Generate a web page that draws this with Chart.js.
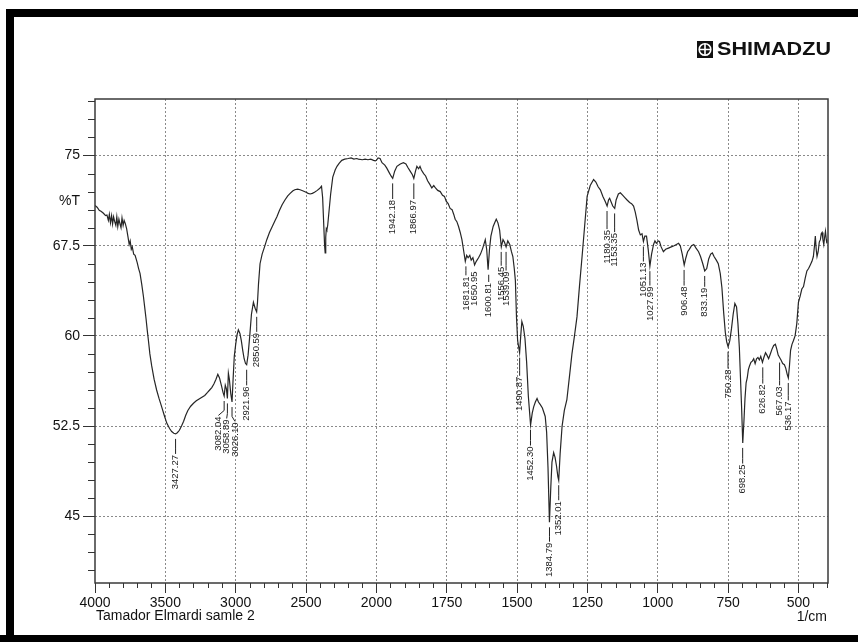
<!DOCTYPE html>
<html>
<head>
<meta charset="utf-8">
<script src="https://cdn.jsdelivr.net/npm/chart.js@4.4.1/dist/chart.umd.min.js"></script>
<style>
html,body{margin:0;padding:0;background:#fff;}
#wrap{width:858px;height:642px;}
</style>
</head>
<body>
<div id="wrap"><canvas id="c" width="858" height="642"></canvas></div>
<script>
// ---------- DATA ----------
const wavenumbers = [
4000,3985,3970,3955,3940,3925,3915,3905,3898,3890,3882,3875,3868,3860,3852,3845,3838,3830,3822,3815,3808,3800,3793,3785,3775,3765,3757,3750,3742,3735,3725,3715,3700,3690,3680,3668,3656,3645,3637,3628,3621,3610,3597,3580,3562,3545,3526,3508,3490,3470,3455,3440,3427,3415,3400,3385,3370,3355,3340,3320,3300,3280,3260,3240,3220,3200,3185,3170,3155,3140,3127,3115,3100,3090,3082,3074,3066,3059,3052,3045,3035,3026,3018,3010,3000,2990,2981,2970,2960,2950,2940,2930,2922,2912,2900,2888,2874,2862,2851,2845,2838,2827,2812,2795,2779,2760,2740,2720,2707,2690,2670,2650,2630,2613,2595,2580,2560,2542,2520,2500,2485,2471,2455,2440,2420,2400,2390,2382,2375,2368,2364,2360,2356,2352,2346,2338,2325,2310,2293,2280,2265,2246,2225,2200,2180,2160,2140,2128,2100,2080,2060,2040,2020,2008,2000,
1994,1987,1980,1970,1963,1955,1948,1942,1935,1927,1915,1904,1895,1888,1880,1872,1867,1861,1856,1850,1845,1840,1832,1825,1818,1810,1803,1796,1790,1782,1773,1765,1758,1752,1745,1738,1731,1725,1720,1714,1708,1702,1696,1690,1684,1679,1674,1668,1663,1657,1651,1645,1637,1630,1622,1613,1608,1603,1598,1593,1585,1578,1574,1568,1562,1556,1550,1545,1539,1533,1526,1520,1515,1510,1506,1502,1498,1491,1487,1483,1478,1472,1466,1460,1452,1446,1441,1435,1429,1424,1418,1410,1400,1395,1390,1385,1380,1376,1370,1365,1360,1355,1352,1347,1340,1332,1323,1313,1305,1296,1287,1278,1269,1260,1251,1240,1228,1220,1212,1204,1195,1187,1180,1175,1171,1165,1160,1153,1148,1140,1133,1125,1117,1109,1100,1093,1086,1080,1074,1068,1062,1056,1051,1046,1040,1034,1028,1022,1015,1010,1005,998,994,988,980,972,962,952,942,934,926,920,913,906,900,894,888,880,872,864,855,848,840,833,826,819,812,806,800,792,785,778,772,766,760,755,750,744,738,732,726,720,715,710,706,702,698,694,690,686,682,678,674,669,664,659,654,649,644,639,634,628,623,617,612,606,600,594,588,582,577,572,567,562,556,550,545,540,536,532,528,523,518,512,506,500,494,488,482,476,470,464,458,452,447,443,440,437,434,430,426,422,419,416,413,410,407,404,401,399
];
const transmittance = [
70.85,70.7,70.45,70.35,70.2,70.0,70.05,69.6,70.1,69.4,70.0,69.3,69.9,69.5,69.2,69.9,69.1,69.7,69.3,69.0,69.8,69.2,69.6,69.35,68.9,68.2,67.6,67.9,67.2,67.4,66.8,66.7,66.1,65.6,65.2,64.3,63.3,62.2,61.4,60.4,59.7,58.5,57.5,56.4,55.5,54.8,54.1,53.4,52.75,52.3,52.05,51.9,51.85,51.95,52.15,52.5,52.9,53.4,53.8,54.15,54.4,54.6,54.75,54.9,55.05,55.3,55.5,55.7,56.0,56.4,56.8,56.5,55.8,55.3,55.0,55.9,55.6,54.8,56.9,56.4,55.2,54.5,56.5,58.3,59.3,60.1,60.5,60.2,59.6,58.8,58.1,57.7,57.6,58.4,60.0,61.8,62.8,62.3,62.0,62.8,64.3,66.0,66.8,67.4,68.0,68.6,69.1,69.6,69.9,70.4,70.9,71.3,71.65,71.85,72.05,72.15,72.2,72.15,72.05,71.95,71.85,71.8,71.85,71.95,72.1,72.3,72.45,71.5,69.5,67.5,66.9,68.2,68.9,68.8,69.2,70.2,71.8,73.2,73.8,74.1,74.35,74.6,74.7,74.75,74.8,74.7,74.75,74.7,74.65,74.7,74.65,74.7,74.6,74.55,74.6,
74.8,74.75,74.4,74.2,73.95,73.6,73.3,73.1,73.7,74.1,74.3,74.4,74.3,74.0,73.7,73.4,73.1,73.7,74.1,73.9,74.1,73.8,73.5,73.3,72.9,72.6,72.3,72.5,72.3,72.1,72.0,71.7,71.6,71.2,71.0,70.6,70.5,70.1,69.7,69.5,69.1,68.6,68.0,67.1,66.2,66.7,66.5,66.7,66.3,66.5,65.9,66.2,66.5,66.8,67.3,68.0,67.2,65.5,67.2,68.3,69.1,69.5,69.7,69.4,68.8,67.4,68.0,67.8,67.4,67.9,67.6,67.0,66.6,65.6,64.6,61.5,59.6,58.6,60.0,61.2,60.8,59.8,57.8,55.0,52.6,53.6,54.1,54.5,54.8,54.5,54.3,54.0,53.3,52.0,49.0,44.5,47.5,49.5,50.3,49.9,49.2,48.3,48.0,50.2,52.5,53.8,54.7,56.8,58.5,60.0,61.6,64.2,66.6,69.1,71.6,72.5,73.0,72.8,72.4,72.15,71.6,71.2,70.8,71.3,71.45,71.1,70.8,70.6,71.3,71.8,71.9,71.7,71.5,71.3,71.1,71.0,70.8,70.3,69.6,68.8,68.4,68.5,67.85,68.3,68.3,67.2,65.8,66.8,67.6,67.9,67.7,67.9,67.85,67.4,67.0,67.2,67.3,67.4,67.5,67.6,67.7,67.5,66.8,65.9,66.5,67.0,67.2,67.5,67.6,67.3,67.0,66.6,66.0,65.4,65.6,66.4,66.8,66.9,66.6,66.3,66.0,65.2,64.0,62.0,60.3,59.5,59.1,59.6,60.6,61.8,62.7,62.4,61.0,59.0,56.5,54.0,51.1,52.8,54.8,56.1,56.5,57.2,57.5,57.8,57.9,58.1,57.7,58.1,58.2,58.0,58.3,57.8,58.2,58.6,58.4,58.1,58.5,58.9,59.2,59.3,58.9,58.4,58.2,58.0,57.7,57.6,57.3,56.8,56.5,57.5,58.8,59.3,59.6,60.0,61.0,62.8,63.3,63.9,64.1,64.8,65.4,65.6,65.9,66.2,66.6,67.5,68.3,67.2,66.6,67.0,67.8,68.0,68.5,68.6,68.0,67.6,68.2,68.7,68.0,67.7
];
const xTickLabels = [4000,3500,3000,2500,2000,1750,1500,1250,1000,750,500];
const yTickValues = [45,52.5,60,67.5,75];
const peakLabels   = ["3427.27","3082.04","3058.89","3026.10","2921.96","2850.59","1942.18","1866.97","1681.81","1650.95","1600.81","1556.45","1539.09","1490.87","1452.30","1384.79","1352.01","1180.35","1153.35","1051.13","1027.99","906.48","833.19","750.28","698.25","626.82","567.03","536.17"];
const peakWn       = [3427.27,3082.04,3058.89,3026.10,2921.96,2850.59,1942.18,1866.97,1681.81,1650.95,1600.81,1556.45,1539.09,1490.87,1452.30,1384.79,1352.01,1180.35,1153.35,1051.13,1027.99,906.48,833.19,750.28,698.25,626.82,567.03,536.17];
const peakT        = [51.85,55.0,54.8,54.5,57.6,62.0,73.1,73.1,66.2,65.9,65.5,67.4,67.4,58.6,52.6,44.5,48.0,70.8,70.6,67.85,65.8,65.9,65.4,59.1,51.1,57.8,58.2,56.5];
const labelWn      = [3427.27,3123,3064,3005,2921.96,2850.59,1942.18,1866.97,1681.81,1650.95,1600.81,1556.45,1539.09,1490.87,1452.30,1384.79,1352.01,1180.35,1153.35,1051.13,1027.99,906.48,833.19,750.28,698.25,626.82,567.03,536.17];
const labelTopT    = [50.1,53.3,53.05,52.8,55.8,60.25,71.3,71.3,64.95,65.35,64.4,65.75,65.35,56.6,50.8,42.8,46.25,68.8,68.55,66.1,64.1,64.1,64.0,57.2,49.3,55.95,55.8,54.55];

// split-scale axis helpers (4000-2000 compressed 2x vs 2000-400)
function toAxis(wn){ return wn >= 2000 ? (4000 - wn) / 2 : 1000 + (2000 - wn); }
function fromAxis(t){ return t <= 1000 ? 4000 - 2 * t : 3000 - t; }

const points = wavenumbers.map((w, i) => ({ x: toAxis(w), y: transmittance[i] }));
const FONT = "'Liberation Sans', Arial, sans-serif";

const decor = {
  id: 'decor',
  beforeDraw(chart) {
    const ctx = chart.ctx;
    ctx.save();
    ctx.fillStyle = '#fff';
    ctx.fillRect(0, 0, chart.width, chart.height);
    ctx.fillStyle = '#000';
    ctx.fillRect(6, 9, 852, 8);
    ctx.fillRect(6, 9, 8, 633);
    ctx.fillRect(0, 635, 858, 7);
    // logo
    ctx.fillStyle = '#111';
    ctx.fillRect(697, 41, 16, 17);
    ctx.strokeStyle = '#fff';
    ctx.lineWidth = 1.6;
    ctx.beginPath(); ctx.arc(705, 49.5, 5.8, 0, Math.PI * 2); ctx.stroke();
    ctx.beginPath(); ctx.moveTo(705, 43.7); ctx.lineTo(705, 55.3); ctx.moveTo(699.2, 49.5); ctx.lineTo(710.8, 49.5); ctx.stroke();
    ctx.font = "bold 18px " + FONT;
    ctx.textBaseline = 'middle';
    ctx.textAlign = 'left';
    const w = ctx.measureText('SHIMADZU').width;
    ctx.translate(717, 50);
    ctx.scale(114 / w, 1.05);
    ctx.fillText('SHIMADZU', 0, 0);
    ctx.restore();
  },
  afterDraw(chart) {
    const ctx = chart.ctx, a = chart.chartArea;
    const xs = chart.scales.x, ys = chart.scales.y;
    ctx.save();
    // frame
    ctx.strokeStyle = '#3a3a3a';
    ctx.lineWidth = 1.5;
    ctx.strokeRect(a.left, a.top, a.right - a.left, a.bottom - a.top);
    // minor ticks x
    ctx.lineWidth = 1;
    ctx.strokeStyle = '#333';
    ctx.beginPath();
    for (let t = 50; t <= 2600; t += 50) {
      if (t % 250 === 0) continue;
      const px = Math.round(xs.getPixelForValue(t)) + 0.5;
      ctx.moveTo(px, a.bottom); ctx.lineTo(px, a.bottom + 5);
    }
    // minor ticks y
    for (let v = 40.5; v <= 79.6; v += 1.5) {
      const r = Math.round(v * 10) / 10;
      if (Math.abs(r / 7.5 - Math.round(r / 7.5)) < 1e-6) continue;
      const py = Math.round(ys.getPixelForValue(r)) + 0.5;
      ctx.moveTo(a.left - 7, py); ctx.lineTo(a.left, py);
    }
    ctx.stroke();
    // texts
    ctx.fillStyle = '#111';
    ctx.font = "14px " + FONT;
    ctx.textBaseline = 'middle';
    ctx.textAlign = 'right';
    ctx.fillText('%T', 80, ys.getPixelForValue(71.2));
    ctx.textAlign = 'left';
    ctx.fillText('Tamador Elmardi samle 2', 96, 616);
    ctx.textAlign = 'right';
    ctx.fillText('1/cm', 827, 617);
    // peak labels
    ctx.font = "9.5px " + FONT;
    ctx.strokeStyle = '#222';
    ctx.fillStyle = '#1a1a1a';
    ctx.lineWidth = 1;
    for (let i = 0; i < peakLabels.length; i++) {
      const px = xs.getPixelForValue(toAxis(peakWn[i]));
      const py = ys.getPixelForValue(peakT[i]);
      const lx = xs.getPixelForValue(toAxis(labelWn[i]));
      const ly = ys.getPixelForValue(labelTopT[i]);
      if (ly - 2 > py + 5) {
        ctx.beginPath();
        ctx.moveTo(px, py + 5);
        ctx.lineTo(px, Math.max(py + 5, ly - 6));
        ctx.lineTo(lx, ly - 1);
        ctx.stroke();
      }
      ctx.save();
      ctx.translate(lx, ly);
      ctx.rotate(-Math.PI / 2);
      ctx.textAlign = 'right';
      ctx.textBaseline = 'middle';
      ctx.fillText(peakLabels[i], 0, 0);
      ctx.restore();
    }
    ctx.restore();
  }
};

new Chart(document.getElementById('c'), {
  type: 'line',
  data: {
    datasets: [{
      data: points,
      borderColor: '#262626',
      borderWidth: 1.2,
      pointRadius: 0,
      tension: 0,
      fill: false
    }]
  },
  options: {
    responsive: false,
    devicePixelRatio: 1,
    animation: false,
    layout: { padding: { top: 99, right: 30, left: 0, bottom: 0 } },
    plugins: { legend: { display: false }, tooltip: { enabled: false } },
    scales: {
      x: {
        type: 'linear',
        min: 0,
        max: 2605,
        afterBuildTicks(scale) { scale.ticks = xTickLabels.map(w => ({ value: toAxis(w) })); },
        afterFit(scale) { scale.height = 59; },
        ticks: {
          autoSkip: false,
          maxRotation: 0,
          padding: 2,
          color: '#111',
          font: { family: FONT, size: 14 },
          callback: (v) => String(Math.round(fromAxis(v)))
        },
        grid: {
          color: (c) => (c.tick && c.tick.value === 0) ? 'rgba(0,0,0,0)' : '#8a8a8a',
          lineWidth: 1,
          tickLength: 10,
          tickColor: '#333',
          drawTicks: true
        },
        border: { display: false, dash: [2, 2] }
      },
      y: {
        type: 'linear',
        min: 39.45,
        max: 79.7,
        afterBuildTicks(scale) { scale.ticks = yTickValues.map(v => ({ value: v })); },
        afterFit(scale) { scale.width = 95; },
        ticks: {
          padding: 3,
          color: '#111',
          font: { family: FONT, size: 14 },
          callback: (v) => String(v)
        },
        grid: {
          color: '#8a8a8a',
          lineWidth: 1,
          tickLength: 12,
          tickColor: '#333'
        },
        border: { display: false, dash: [2, 2] }
      }
    }
  },
  plugins: [decor]
});
</script>
</body>
</html>
